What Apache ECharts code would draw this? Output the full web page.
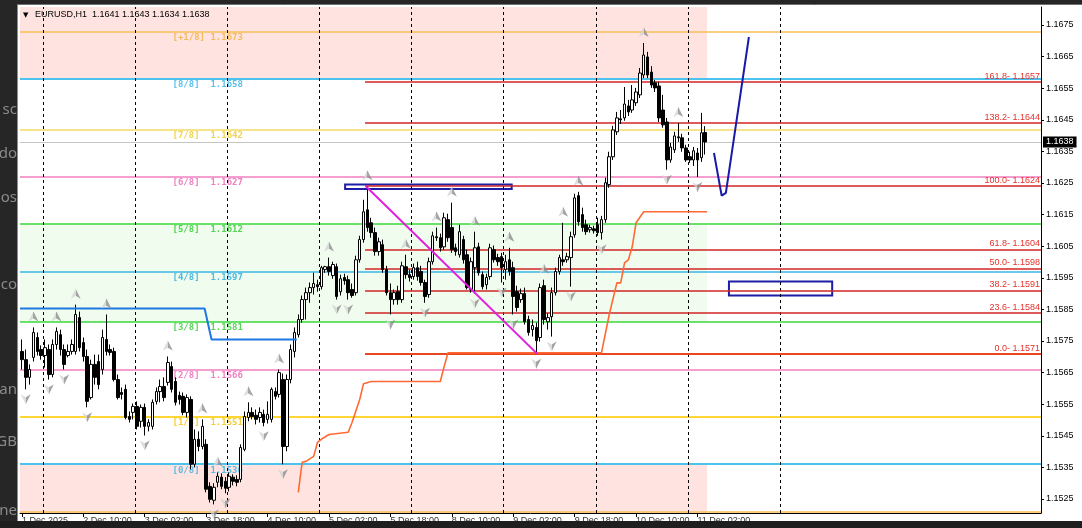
<!DOCTYPE html>
<html><head><meta charset="utf-8">
<script src="https://cdn.jsdelivr.net/npm/echarts@6/dist/echarts.min.js"></script>
<style>html,body{margin:0;padding:0;background:#262626;overflow:hidden}#c{width:1082px;height:528px}</style>
</head><body><div id="c"></div>
<script>
// ---------- DATA ----------
const titleText = 'EURUSD,H1  1.1641 1.1643 1.1634 1.1638';
// H1 candles: [open, close, low, high]
const candles = [
[1.15717,1.15691,1.15660,1.15755],[1.15691,1.15635,1.15597,1.15723],[1.15635,1.15660,1.15612,1.15676],[1.15698,1.15777,1.15685,1.15793],[1.15761,1.15717,1.15704,1.15777],
[1.15723,1.15704,1.15691,1.15736],[1.15704,1.15729,1.15666,1.15755],[1.15723,1.15644,1.15628,1.15739],[1.15644,1.15739,1.15635,1.15755],[1.15739,1.15780,1.15723,1.15793],
[1.15770,1.15723,1.15704,1.15786],[1.15723,1.15676,1.15660,1.15739],[1.15704,1.15717,1.15698,1.15739],[1.15717,1.15739,1.15707,1.15755],[1.15717,1.15834,1.15707,1.15865],
[1.15824,1.15729,1.15717,1.15843],[1.15745,1.15701,1.15685,1.15761],[1.15701,1.15559,1.15540,1.15723],[1.15571,1.15676,1.15565,1.15691],[1.15676,1.15635,1.15612,1.15707],
[1.15685,1.15612,1.15597,1.15707],[1.15660,1.15761,1.15644,1.15786],[1.15755,1.15717,1.15704,1.15834],[1.15723,1.15714,1.15704,1.15739],[1.15717,1.15628,1.15622,1.15729],
[1.15628,1.15571,1.15565,1.15644],[1.15587,1.15581,1.15565,1.15603],[1.15597,1.15508,1.15502,1.15612],[1.15511,1.15502,1.15492,1.15527],[1.15524,1.15543,1.15502,1.15552],
[1.15543,1.15480,1.15470,1.15559],[1.15496,1.15540,1.15476,1.15549],[1.15540,1.15480,1.15451,1.15552],[1.15480,1.15492,1.15464,1.15502],[1.15480,1.15556,1.15470,1.15565],
[1.15559,1.15590,1.15549,1.15603],[1.15590,1.15606,1.15556,1.15628],[1.15606,1.15571,1.15559,1.15635],[1.15619,1.15682,1.15609,1.15701],[1.15669,1.15597,1.15587,1.15685],
[1.15622,1.15556,1.15546,1.15635],[1.15578,1.15565,1.15549,1.15590],[1.15575,1.15524,1.15515,1.15587],[1.15524,1.15571,1.15508,1.15581],[1.15565,1.15360,1.15344,1.15575],
[1.15360,1.15439,1.15350,1.15470],[1.15439,1.15416,1.15401,1.15464],[1.15416,1.15480,1.15407,1.15502],[1.15423,1.15281,1.15271,1.15439],[1.15290,1.15249,1.15239,1.15303],
[1.15246,1.15287,1.15233,1.15300],[1.15303,1.15322,1.15287,1.15334],[1.15319,1.15290,1.15281,1.15331],[1.15306,1.15284,1.15268,1.15319],[1.15287,1.15322,1.15274,1.15334],
[1.15319,1.15306,1.15293,1.15328],[1.15312,1.15303,1.15290,1.15325],[1.15312,1.15413,1.15303,1.15423],[1.15407,1.15511,1.15401,1.15527],[1.15508,1.15524,1.15496,1.15556],
[1.15524,1.15511,1.15502,1.15540],[1.15515,1.15502,1.15486,1.15533],[1.15508,1.15524,1.15492,1.15540],[1.15518,1.15492,1.15480,1.15533],[1.15502,1.15518,1.15489,1.15559],
[1.15502,1.15597,1.15492,1.15603],[1.15590,1.15575,1.15565,1.15603],[1.15581,1.15650,1.15571,1.15660],[1.15628,1.15416,1.15360,1.15647],[1.15416,1.15628,1.15401,1.15644],
[1.15628,1.15723,1.15616,1.15739],[1.15717,1.15777,1.15698,1.15793],[1.15770,1.15818,1.15761,1.15834],[1.15818,1.15881,1.15808,1.15894],[1.15881,1.15903,1.15818,1.15919],
[1.15903,1.15919,1.15871,1.15935],[1.15919,1.15932,1.15897,1.15966],[1.15928,1.15922,1.15906,1.15944],[1.15922,1.15982,1.15913,1.15988],[1.15976,1.15985,1.15966,1.15988],
[1.15985,1.15970,1.15957,1.16014],[1.15957,1.15992,1.15947,1.16001],[1.15985,1.15891,1.15881,1.15995],[1.15906,1.15947,1.15894,1.15960],[1.15951,1.15941,1.15928,1.15963],
[1.15944,1.15903,1.15881,1.15957],[1.15913,1.15894,1.15887,1.15932],[1.15903,1.16007,1.15894,1.16020],[1.16007,1.16071,1.15998,1.16083],[1.16071,1.16159,1.16061,1.16197],
[1.16165,1.16109,1.16096,1.16240],[1.16124,1.16093,1.16077,1.16140],[1.16093,1.16033,1.16020,1.16109],[1.16033,1.16064,1.16020,1.16077],[1.16055,1.15976,1.15966,1.16071],
[1.15976,1.15903,1.15894,1.15988],[1.15903,1.15881,1.15834,1.15932],[1.15881,1.15903,1.15865,1.15913],[1.15906,1.15881,1.15865,1.15925],[1.15881,1.15988,1.15871,1.16001],
[1.15985,1.15960,1.15947,1.16023],[1.15960,1.15951,1.15938,1.15976],[1.15954,1.15982,1.15944,1.15995],[1.15982,1.15954,1.15941,1.16001],[1.15970,1.15935,1.15925,1.15988],
[1.15935,1.15891,1.15871,1.15944],[1.15897,1.16001,1.15887,1.16014],[1.16001,1.16083,1.15992,1.16096],[1.16080,1.16077,1.16067,1.16109],[1.16077,1.16045,1.16033,1.16090],
[1.16048,1.16140,1.16039,1.16156],[1.16134,1.16077,1.16064,1.16153],[1.16109,1.16039,1.16029,1.16188],[1.16045,1.16033,1.16020,1.16058],[1.16023,1.16096,1.16014,1.16118],
[1.16071,1.16007,1.15995,1.16083],[1.16023,1.15919,1.15913,1.16039],[1.15913,1.16001,1.15903,1.16014],[1.15982,1.16045,1.15900,1.16096],[1.16048,1.15966,1.15957,1.16061],
[1.15960,1.15922,1.15913,1.15970],[1.15928,1.15951,1.15913,1.15963],[1.15954,1.16045,1.15944,1.16058],[1.16039,1.16007,1.15998,1.16052],[1.16014,1.16001,1.15988,1.16026],
[1.16017,1.15982,1.15935,1.16029],[1.15976,1.16001,1.15944,1.16023],[1.16007,1.15970,1.15957,1.16045],[1.15982,1.15891,1.15834,1.16001],[1.15906,1.15856,1.15843,1.15925],
[1.15881,1.15900,1.15871,1.15916],[1.15900,1.15811,1.15802,1.15919],[1.15818,1.15777,1.15767,1.15830],[1.15786,1.15799,1.15764,1.15818],[1.15793,1.15751,1.15710,1.15808],
[1.15761,1.15919,1.15748,1.15932],[1.15925,1.15818,1.15802,1.15944],[1.15811,1.15824,1.15786,1.15837],[1.15827,1.15903,1.15764,1.15919],[1.15903,1.15970,1.15894,1.15982],
[1.15970,1.16014,1.15960,1.16023],[1.16007,1.16001,1.15988,1.16124],[1.16007,1.16017,1.15998,1.16029],[1.16014,1.16080,1.15922,1.16096],[1.16086,1.16203,1.16077,1.16216],
[1.16210,1.16127,1.16115,1.16222],[1.16150,1.16109,1.16096,1.16172],[1.16118,1.16096,1.16086,1.16134],[1.16102,1.16109,1.16093,1.16118],[1.16105,1.16099,1.16090,1.16115],
[1.16118,1.16093,1.16083,1.16140],[1.16093,1.16134,1.16071,1.16146],[1.16134,1.16251,1.16124,1.16267],[1.16245,1.16333,1.16235,1.16349],[1.16333,1.16418,1.16323,1.16431],
[1.16412,1.16456,1.16402,1.16475],[1.16453,1.16450,1.16437,1.16481],[1.16456,1.16500,1.16447,1.16554],[1.16494,1.16475,1.16462,1.16513],[1.16481,1.16513,1.16472,1.16560],
[1.16504,1.16538,1.16494,1.16551],[1.16529,1.16598,1.16519,1.16614],[1.16592,1.16655,1.16582,1.16693],[1.16649,1.16592,1.16582,1.16665],[1.16601,1.16560,1.16551,1.16620],
[1.16567,1.16551,1.16538,1.16576],[1.16557,1.16456,1.16443,1.16570],[1.16481,1.16434,1.16425,1.16529],[1.16443,1.16323,1.16292,1.16456],[1.16323,1.16364,1.16314,1.16377],
[1.16355,1.16399,1.16345,1.16412],[1.16396,1.16393,1.16380,1.16440],[1.16393,1.16361,1.16349,1.16406],[1.16361,1.16323,1.16317,1.16371],[1.16333,1.16323,1.16314,1.16349],
[1.16323,1.16352,1.16304,1.16364],[1.16345,1.16323,1.16269,1.16361],[1.16330,1.16409,1.16317,1.16472],[1.1641,1.1638,1.1634,1.1643]
];
const upFractals = [3,9,14,22,38,47,51,59,67,80,90,100,108,112,118,127,136,141,145,162,171];
const downFractals = [1,7,11,17,32,50,53,63,68,82,85,96,105,118,125,128,134,138,143,151,168,176];

const murreyNames = ['[+1/8]','[8/8]','[7/8]','[6/8]','[5/8]','[4/8]','[3/8]','[2/8]','[1/8]','[0/8]','[-1/8]'];
const murreyLevels = [1.1673,1.1658,1.1642,1.1627,1.1612,1.1597,1.1581,1.1566,1.1551,1.1536,1.1521];

const fibNames = ['161.8','138.2','100.0','61.8','50.0','38.2','23.6','0.0'];
const fibLevels = [1.1657,1.1644,1.1624,1.1604,1.1598,1.1591,1.1584,1.1571];
const fibAnchorBar = 89.4;

const priceTicks = [1.1525,1.1535,1.1545,1.1555,1.1565,1.1575,1.1585,1.1595,1.1605,1.1615,1.1625,1.1635,1.1645,1.1655,1.1665,1.1675];
const timeTickBars = [0,16,32,48,64,80,96,112,128,144,160,176];
const timeLabels = ['1 Dec 2025','2 Dec 10:00','3 Dec 02:00','3 Dec 18:00','4 Dec 10:00','5 Dec 02:00','5 Dec 18:00','8 Dec 10:00','9 Dec 02:00','9 Dec 18:00','10 Dec 10:00','11 Dec 02:00'];
const daySeparators = [5.5,29.5,53.5,77.5,101.5,125.5,149.5,173.5,197.5];
const lastPrice = 1.1638;

// indicator / drawn objects: [bar, price]
const blueStop = [[-0.5,1.15853],[47.6,1.15853],[49.4,1.15755],[71.6,1.15755]];
const orangeStop = [[72,1.15271],[73,1.15366],[74,1.15369],[76,1.15385],[77,1.15429],[78,1.15439],[80,1.15454],[85,1.15461],[86,1.15492],[88,1.15565],[89,1.15615],[91,1.15622],[109,1.15622],[110,1.15669],[111,1.15713],[151,1.15713],[153,1.15833],[155,1.15934],[156,1.15934],[157,1.15997],[158,1.16007],[159,1.16048],[160,1.16124],[162,1.16159],[178.5,1.16159]];
const trendLine = [[89.6,1.16240],[134.2,1.15710]];
const projection = [[180.3,1.16345],[182.3,1.16210],[183.4,1.16219],[189.4,1.16712]];
const boxes = [[[84.2,1.16245],[127.6,1.16231]],[[184.2,1.15938],[211.1,1.15894]]];

// ---------- CHART ----------
const yMin = 1.152057, yMax = 1.16807, xMin = -0.5, xMax = 265.5;
const zoneEnd = candles.length - 0.5;
const FONT = 'Liberation Sans';
const murreyLineColors = ['#f7bf55','#4cc3ee','#f6e48c','#f27fc2','#3bd83b','#3db4e3','#3bd83b','#f27fc2','#ffd633','#4cc3ee','#f7bf55'];
const murreyWidths = [1.5,2,2,1.5,1.5,1.5,1.5,1.5,2,2,1.5];
const murreyTextColors = ['#f0b040','#2fb0e6','#ecc82a','#ea5fb0','#2ec82e','#2aa8dc','#2ec82e','#ea5fb0','#f0c010','#2fb0e6'];
const fibLineColors = ['#d02626','#d02626','#d02626','#d02626','#d02626','#d02626','#d02626','#e8461f'];
const arrowUp = 'path://M5,0 L10,10 L5,7.2 L0,10 Z';
const arrowDown = 'path://M0,0 L5,2.8 L10,0 L5,10 Z';
const arrowFill = {type:'linear',x:0,y:0,x2:1,y2:0,colorStops:[{offset:0,color:'#d4d4d4'},{offset:0.5,color:'#d4d4d4'},{offset:0.5,color:'#8e8e8e'},{offset:1,color:'#8e8e8e'}]};
const hLine = (v, extra) => [Object.assign({coord:[xMin,v]}, extra||{}), {coord:[xMax,v]}];
const vLine = (v, extra) => [Object.assign({coord:[v,yMin]}, extra||{}), {coord:[v,yMax]}];

const chart = echarts.init(document.getElementById('c'), null, {renderer:'canvas'});
const leftTexts = [['sc',117],['do',161],['os',205],['co',292],['an',397],['GB',449],['ne',518]];

const option = {
  animation:false,
  backgroundColor:'#262626',
  textStyle:{fontFamily:FONT},
  grid:{left:20,right:41,top:7,bottom:15,containLabel:false},
  xAxis:{type:'value',min:xMin,max:xMax,
    axisLine:{show:true,onZero:false,lineStyle:{color:'#000',width:1}},
    axisTick:{show:true,customValues:timeTickBars,length:4,lineStyle:{color:'#000'}},
    axisLabel:{show:true,customValues:timeTickBars,formatter:v=>{const k=timeTickBars.indexOf(Math.round(v));return k<0?'':timeLabels[k];},
      align:'left',margin:3,fontSize:9,color:'#333',fontFamily:FONT},
    splitLine:{show:false}},
  yAxis:{type:'value',position:'right',min:yMin,max:yMax,
    axisLine:{show:true,onZero:false,lineStyle:{color:'#000',width:1}},
    axisTick:{show:true,customValues:priceTicks,length:3,lineStyle:{color:'#000'}},
    axisLabel:{show:true,customValues:priceTicks,formatter:v=>v.toFixed(4),margin:5,fontSize:9,color:'#000',fontFamily:FONT},
    splitLine:{show:false}},
  graphic:[
    {type:'rect',z:-10,shape:{x:18,y:5,width:1064,height:516},style:{fill:'#ffffff'}},
    {type:'line',z:-9,shape:{x1:17.5,y1:4,x2:17.5,y2:521},style:{stroke:'#8c8c8c',lineWidth:1}},
    {type:'line',z:-9,shape:{x1:17,y1:4.5,x2:1082,y2:4.5},style:{stroke:'#707070',lineWidth:1}},
    ...leftTexts.map(t=>({type:'text',z:-11,x:17,y:t[1],style:{text:t[0],font:'15px "Noto Sans"',fill:'#8a8a8a',align:'right',verticalAlign:'bottom'}})),
    {type:'text',z:20,x:23,y:15,style:{text:'▼',font:'7px "DejaVu Sans"',fill:'#000',verticalAlign:'middle'}},
    {type:'text',z:20,x:35,y:15,style:{text:titleText,font:'9px "Liberation Sans"',fill:'#000',verticalAlign:'middle'}},
    {type:'rect',z:100,shape:{x:0,y:521,width:1082,height:7},style:{fill:'#1f1f1f'}}
  ],
  series:[
    // zones
    {type:'line',data:[],z:1,silent:true,
      markArea:{silent:true,data:[
        [{coord:[xMin,murreyLevels[1]],itemStyle:{color:'#ffe3e1'}},{coord:[zoneEnd,yMax]}],
        [{coord:[xMin,yMin],itemStyle:{color:'#ffe3e1'}},{coord:[zoneEnd,murreyLevels[9]]}],
        [{coord:[xMin,murreyLevels[6]],itemStyle:{color:'#effcee'}},{coord:[zoneEnd,murreyLevels[4]]}]
      ]}},
    // murrey lines, separators, last price line
    {type:'line',data:[],z:2,silent:true,
      markLine:{silent:true,symbol:['none','none'],label:{show:false},
        data:[
          ...murreyLevels.map((v,k)=>hLine(v,{lineStyle:{color:murreyLineColors[k],width:murreyWidths[k],type:'solid'}})),
          hLine(lastPrice,{lineStyle:{color:'#c4c4c4',width:1,type:'solid'},
            label:{show:true,position:'end',distance:2,formatter:lastPrice.toFixed(4),color:'#fff',backgroundColor:'#000',padding:[1,3,0,3],lineHeight:10,fontSize:9,fontFamily:FONT}}),
          ...daySeparators.map(v=>vLine(v,{lineStyle:{color:'#000',width:1,type:[3,3]}}))
        ]}},
    // murrey labels
    {type:'scatter',z:2,silent:true,symbolSize:1,itemStyle:{color:'rgba(0,0,0,0)'},
      data:murreyLevels.slice(0,10).map((v,k)=>({value:[39.1,v],label:{color:murreyTextColors[k]}})),
      label:{show:true,position:'right',distance:0,offset:[0,6],fontFamily:'"DejaVu Sans Mono"',fontSize:9,fontWeight:'bold',
        formatter:p=>murreyNames[p.dataIndex].padEnd(7,' ')+murreyLevels[p.dataIndex].toFixed(4)}},
    // fibonacci
    {type:'line',data:[],z:3,silent:true,
      markLine:{silent:true,symbol:['none','none'],
        lineStyle:{color:'#d02626',width:1.5,type:'solid'},
        label:{show:true,position:'insideEndTop',distance:1,color:'#e6302a',fontSize:9,fontFamily:FONT},
        data:fibLevels.map((v,k)=>[{coord:[fibAnchorBar,v],lineStyle:{color:fibLineColors[k],width:k===7?2:1.5},label:{formatter:fibNames[k]+'- '+v.toFixed(4)}},{coord:[xMax,v]}])}},
    // candles
    {type:'candlestick',z:5,silent:true,barWidth:3,
      encode:{x:0,y:[1,2,3,4]},
      data:candles.map((c,i)=>[i,c[0],c[1],c[2],c[3]]),
      itemStyle:{color:'#ffffff',color0:'#000000',borderColor:'#000000',borderColor0:'#000000',borderWidth:1}},
    // fractals
    {type:'scatter',z:6,silent:true,symbol:arrowUp,symbolSize:[10,10],symbolOffset:[0,-11],itemStyle:{color:arrowFill},
      data:upFractals.map(i=>[i,candles[i][3]])},
    {type:'scatter',z:6,silent:true,symbol:arrowDown,symbolSize:[10,10],symbolOffset:[0,10],itemStyle:{color:arrowFill},
      data:downFractals.map(i=>[i,candles[i][2]])},
    // indicator lines
    {type:'line',z:6,silent:true,showSymbol:false,symbol:'none',data:blueStop,lineStyle:{color:'#1f78e2',width:2}},
    {type:'line',z:6,silent:true,showSymbol:false,symbol:'none',data:orangeStop,lineStyle:{color:'#ff6a34',width:1.6}},
    {type:'line',z:7,silent:true,showSymbol:false,symbol:'none',data:trendLine,lineStyle:{color:'#e01fe0',width:2}},
    {type:'line',z:7,silent:true,showSymbol:false,symbol:'none',data:projection,lineStyle:{color:'#1a1aa8',width:2}},
    // rectangles
    {type:'line',data:[],z:7,silent:true,
      markArea:{silent:true,itemStyle:{color:'rgba(255,255,255,0)',borderColor:'#1d1da6',borderWidth:2},
        data:boxes.map(b=>[{coord:b[0]},{coord:b[1]}])}}
  ]
};
chart.setOption(option);
</script>
</body></html>
